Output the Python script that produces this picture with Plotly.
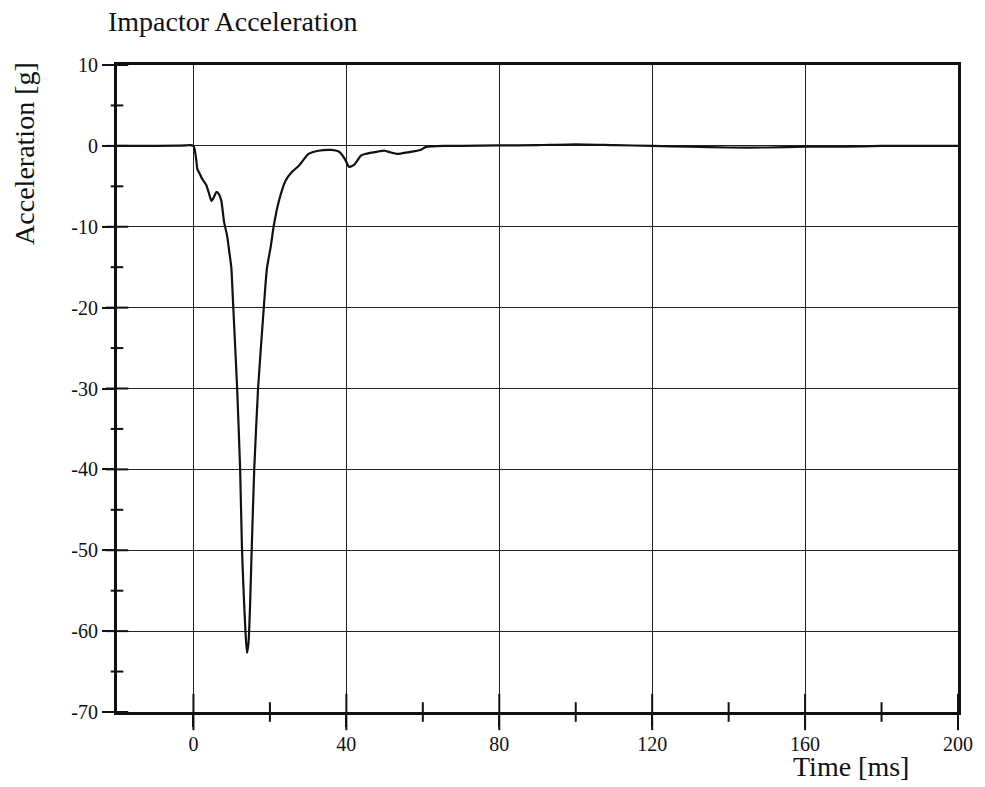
import plotly.graph_objects as go

# impactor acceleration trace
time_ms = [-20, -10, -2, -1, 0, 0.3, 0.8, 1.0, 1.7, 2.3, 3.4, 4.2, 4.7, 5.3, 6.0, 6.7, 7.3,
           8.0, 8.8, 9.4, 9.9, 10.4, 11.4, 12.2, 12.7, 13.2, 13.6, 14.0, 14.4, 14.8,
           15.2, 15.9, 16.9, 18.4, 19.2, 20.2, 21.0, 22.3, 24.1, 25.8, 27.5, 30.1,
           32.7, 36.1, 38.0, 38.7, 39.8, 40.7, 41.5, 42.3, 43.8, 44.9, 48.2, 50.0,
           51.5, 53.4, 56.0, 59.4, 60.7, 65.6, 70, 80, 90, 100, 110, 120, 130, 140,
           150, 160, 170, 180, 190, 200]
accel_g = [0, 0, 0.05, 0.1, 0, -0.4, -2.0, -2.85, -3.5, -4.1, -4.9, -6.1, -6.8, -6.4, -5.7,
           -6.0, -6.8, -9.4, -11.1, -13.2, -15.0, -19.8, -29.7, -39.8, -49.9, -56.0,
           -60.0, -62.7, -61.5, -57.0, -50.5, -40.0, -30.0, -20.0, -15.2, -12.5, -9.9,
           -6.9, -4.3, -3.2, -2.5, -1.0, -0.6, -0.5, -0.7, -1.0, -1.8, -2.6, -2.5,
           -2.2, -1.2, -1.0, -0.7, -0.6, -0.8, -1.0, -0.8, -0.5, -0.15, 0, 0, 0.05,
           0.1, 0.2, 0.1, 0, -0.1, -0.2, -0.2, -0.1, -0.1, 0, 0, 0]

x_major = [0, 40, 80, 120, 160, 200]
x_minor = [20, 60, 100, 140, 180]
y_major = [-70, -60, -50, -40, -30, -20, -10, 0, 10]
y_minor = [-65, -55, -45, -35, -25, -15, -5, 5]

serif = "Liberation Serif"
ink = "#111111"

fig = go.Figure()

fig.add_trace(go.Scatter(
    x=time_ms, y=accel_g, mode="lines",
    line=dict(color=ink, width=2.2, shape="spline", smoothing=0.5),
    hoverinfo="x+y",
))

# tick marks that cross the axis lines
fig.add_trace(go.Scatter(
    x=x_major, y=[-70] * len(x_major), mode="markers", cliponaxis=False,
    marker=dict(symbol="line-ns", size=26, line=dict(color=ink, width=2)),
    hoverinfo="skip",
))
fig.add_trace(go.Scatter(
    x=x_minor, y=[-70] * len(x_minor), mode="markers", cliponaxis=False,
    marker=dict(symbol="line-ns", size=14, line=dict(color=ink, width=2)),
    hoverinfo="skip",
))
fig.add_trace(go.Scatter(
    x=[-20] * len(y_major), y=y_major, mode="markers", cliponaxis=False,
    marker=dict(symbol="line-ew", size=16, line=dict(color=ink, width=2)),
    hoverinfo="skip",
))
fig.add_trace(go.Scatter(
    x=[-20] * len(y_minor), y=y_minor, mode="markers", cliponaxis=False,
    marker=dict(symbol="line-ew", size=9, line=dict(color=ink, width=2)),
    hoverinfo="skip",
))

fig.update_layout(
    width=985, height=787,
    margin=dict(l=117, r=19, t=65, b=75),
    paper_bgcolor="white", plot_bgcolor="white",
    showlegend=False,
    font=dict(family=serif, color=ink, size=20),
    title=dict(text="Impactor Acceleration", font=dict(family=serif, size=28, color=ink),
               x=108 / 985, xanchor="left", xref="container",
               y=1 - 21 / 787, yanchor="middle", yref="container"),
)

fig.update_xaxes(
    range=[-20, 200], tickvals=x_major, ticktext=[str(v) for v in x_major],
    showgrid=True, gridcolor="#222222", gridwidth=1.3, zeroline=False,
    showline=True, linecolor=ink, linewidth=3, mirror=True,
    ticks="outside", ticklen=12, tickwidth=2, tickcolor=ink,
    tickfont=dict(family=serif, size=20),
)
fig.update_yaxes(
    range=[-70, 10], tickvals=y_major, ticktext=[str(v) for v in y_major],
    showgrid=True, gridcolor="#222222", gridwidth=1.3, zeroline=False,
    showline=True, linecolor=ink, linewidth=3, mirror=True,
    ticks="outside", ticklen=12, tickwidth=2, tickcolor=ink,
    tickfont=dict(family=serif, size=20),
)

# axis titles placed where the original had them
fig.add_annotation(text="Acceleration [g]", textangle=-90, showarrow=False,
                   xref="paper", yref="paper", x=(23 - 117) / 849, y=(712 - 153) / 647,
                   xanchor="center", yanchor="middle",
                   font=dict(family=serif, size=28, color=ink))
fig.add_annotation(text="Time [ms]", showarrow=False,
                   xref="paper", yref="paper", x=(858 - 117) / 849, y=(712 - 766) / 647,
                   xanchor="center", yanchor="middle",
                   font=dict(family=serif, size=28, color=ink))

# no page margin and no scrollbars, so the 985x787 figure fills the window exactly
page_js = ("document.body.style.margin = '0';"
           "document.body.style.overflow = 'hidden';"
           "document.documentElement.style.overflow = 'hidden';")
fig.write_html("out.html", post_script=page_js, config={"displayModeBar": False})
